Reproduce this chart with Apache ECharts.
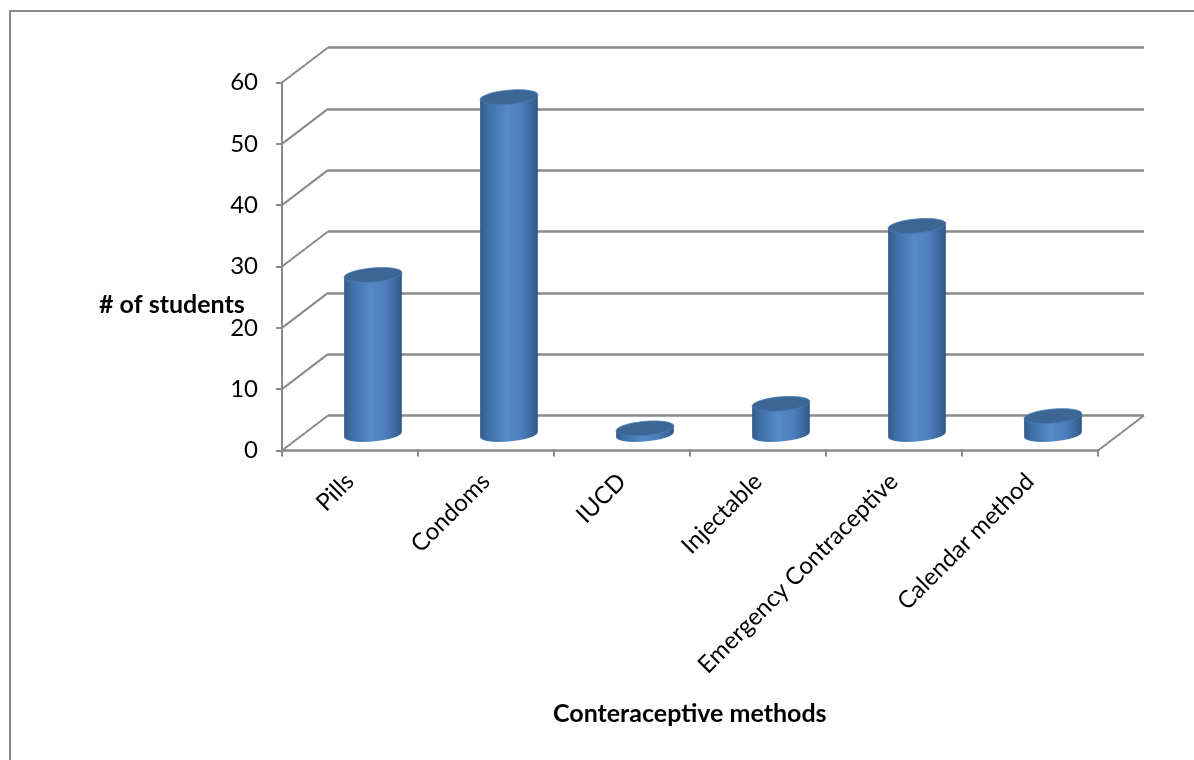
<!DOCTYPE html>
<html>
<head>
<meta charset="utf-8">
<style>
  html, body { margin: 0; padding: 0; background: #fff; }
  #main { width: 1194px; height: 760px; }
</style>
<script src="https://cdn.jsdelivr.net/npm/echarts@6/dist/echarts.min.js"></script>
</head>
<body>
<div id="main"></div>
<script>
var categories = ['Pills', 'Condoms', 'IUCD', 'Injectable', 'Emergency Contraceptive', 'Calendar method'];
var students = [26, 55, 1, 5, 34, 3];
var yTicks = [0, 10, 20, 30, 40, 50, 60];

var GREY = '#8a8a8a';
var FONT = 'Lato, "Open Sans", sans-serif';
// the fake 3d depth of the chart, front wall to back wall
var depthX = 46, depthY = -35;
var plot = { left: 282, top: 82.5, width: 816, height: 368 };

function gridAt(f, shift) {
    return { left: plot.left + depthX * f, top: plot.top + depthY * f + (shift || 0), width: plot.width, height: plot.height };
}
function hiddenX(i) {
    return { gridIndex: i, type: 'category', data: categories, axisLine: { show: false }, axisTick: { show: false }, axisLabel: { show: false } };
}
function hiddenY(i, split) {
    return {
        gridIndex: i, type: 'value', min: 0, max: 60, interval: 10,
        axisLine: { show: false }, axisTick: { show: false }, axisLabel: { show: false },
        splitLine: { show: split, lineStyle: { color: GREY, width: 2.5 } }
    };
}

function renderDepth(params, api) {
    var cs = params.coordSys;
    var y = api.coord([categories[0], api.value(0)])[1];
    var line = { stroke: GREY, lineWidth: 2, fill: null };
    var children = [{
        type: 'line',
        shape: { x1: cs.x, y1: y, x2: cs.x + depthX, y2: y + depthY },
        style: line
    }];
    if (api.value(0) === 0) {
        children.push({
            type: 'line',
            shape: { x1: cs.x + cs.width, y1: y, x2: cs.x + cs.width + depthX, y2: y + depthY },
            style: line
        });
    }
    return { type: 'group', children: children };
}

function renderCylinder(params, api) {
    var base = api.coord([api.value(0), 0]);
    var top = api.coord([api.value(0), api.value(1)]);
    var a = api.size([1, 0])[0] * 0.213;
    var b = 7;
    var tilt = -5 * Math.PI / 180;
    var sin = Math.sin(-tilt), cos = Math.cos(tilt);
    var ext = Math.sqrt(a * a * cos * cos + b * b * sin * sin);
    var dy = (a * a - b * b) * sin * cos / ext;
    var cx = base[0];
    var body = 'M' + (cx - ext) + ' ' + (top[1] + dy) +
        ' L' + (cx - ext) + ' ' + (base[1] + dy) +
        ' A' + a + ' ' + b + ' -5 0 0 ' + (cx + ext) + ' ' + (base[1] - dy) +
        ' L' + (cx + ext) + ' ' + (top[1] - dy) + ' Z';
    return {
        type: 'group',
        children: [{
            type: 'path',
            shape: { pathData: body, layout: 'none' },
            style: {
                fill: new echarts.graphic.LinearGradient(0, 0, 1, 0, [
                    { offset: 0, color: '#315a86' },
                    { offset: 0.12, color: '#3e6ea5' },
                    { offset: 0.45, color: '#5589c8' },
                    { offset: 0.7, color: '#4e80bc' },
                    { offset: 0.9, color: '#3b679b' },
                    { offset: 1, color: '#315a86' }
                ])
            }
        }, {
            type: 'ellipse',
            shape: { cx: 0, cy: 0, rx: a, ry: b },
            x: cx,
            y: top[1],
            rotation: -tilt,
            style: { fill: '#3c6694', stroke: '#4a7cb5', lineWidth: 0.8 }
        }]
    };
}

var chart = echarts.init(document.getElementById('main'));
chart.setOption({
    animation: false,
    backgroundColor: '#fff',
    textStyle: { fontFamily: FONT },
    title: [
        { text: '# of students', left: 99, top: 292, padding: 0, textStyle: { fontFamily: FONT, fontSize: 25, fontWeight: 'bold', color: '#000' } },
        { text: 'Conteraceptive methods', left: 553, top: 701, padding: 0, textStyle: { fontFamily: FONT, fontSize: 25, fontWeight: 'bold', color: '#000' } }
    ],
    graphic: [{
        type: 'polyline',
        shape: { points: [[10, 760], [10, 11], [1194, 11]] },
        style: { stroke: GREY, lineWidth: 2, fill: null },
        silent: true
    }],
    grid: [gridAt(0), gridAt(1), gridAt(0.5, 1.5)],
    xAxis: [{
        gridIndex: 0,
        type: 'category',
        data: categories,
        axisLine: { lineStyle: { color: GREY, width: 2.5 } },
        axisTick: { show: true, length: 6, lineStyle: { color: GREY, width: 2 } },
        axisLabel: { rotate: 45, interval: 0, margin: 27, fontSize: 24, color: '#000', fontFamily: FONT }
    }, hiddenX(1), hiddenX(2)],
    yAxis: [{
        gridIndex: 0,
        type: 'value',
        min: 0,
        max: 60,
        interval: 10,
        axisLine: { show: true, lineStyle: { color: GREY, width: 2 } },
        axisTick: { show: true, length: 6, lineStyle: { color: GREY, width: 2 } },
        axisLabel: { margin: 24, fontSize: 24, color: '#000', fontFamily: FONT, padding: [2, 0, 0, 0] },
        splitLine: { show: false }
    }, hiddenY(1, true), hiddenY(2, false)],
    series: [{
        type: 'custom',
        name: 'depth',
        xAxisIndex: 0,
        yAxisIndex: 0,
        coordinateSystem: 'cartesian2d',
        renderItem: renderDepth,
        encode: { y: 0 },
        data: yTicks.map(function (t) { return [t]; }),
        silent: true
    }, {
        type: 'custom',
        name: '# of students',
        xAxisIndex: 2,
        yAxisIndex: 2,
        coordinateSystem: 'cartesian2d',
        renderItem: renderCylinder,
        encode: { x: 0, y: 1 },
        data: students.map(function (v, i) { return [i, v]; }),
        z: 5
    }]
});
</script>
</body>
</html>
